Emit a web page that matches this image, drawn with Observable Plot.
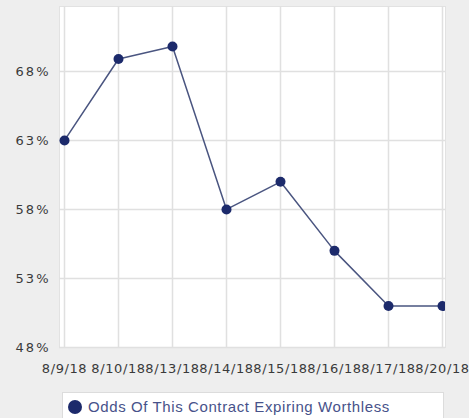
<!DOCTYPE html>
<html>
<head>
<meta charset="utf-8">
<script src="https://cdn.jsdelivr.net/npm/d3@7"></script>
<script src="https://cdn.jsdelivr.net/npm/@observablehq/plot@0.6"></script>
<style>
  html, body { margin: 0; padding: 0; background: #eeeeee; overflow: hidden; }
  #chart svg { display: block; }
  #chart g[aria-label="x-axis tick label"] { letter-spacing: 0.6px; }
  #chart g[aria-label="y-axis tick label"] { letter-spacing: 2px; }
  .legend {
    position: absolute; left: 62px; top: 392px; width: 382px; height: 40px;
    background: #ffffff; border: 1px solid #dcdcdc; box-sizing: border-box;
    font: 15px Arial, "Liberation Sans", sans-serif; letter-spacing: 0.6px; color: #47528a;
    display: flex; align-items: flex-start; padding: 5px 0 0 5px;
  }
  .legend .sw { width: 14px; height: 14px; border-radius: 50%; background: #1c2a6b; margin-right: 6px; margin-top: 2px; flex: none; }
</style>
</head>
<body>
<div id="chart"></div>
<div class="legend"><span class="sw"></span><span>Odds Of This Contract Expiring Worthless</span></div>
<script>
const dates = ["8/9/18", "8/10/18", "8/13/18", "8/14/18", "8/15/18", "8/16/18", "8/17/18", "8/20/18"];
const odds = [63, 68.9, 69.8, 58, 60, 55, 51, 51];
const yTicks = [48, 53, 58, 63, 68];

const data = dates.map((d, i) => ({date: d, value: odds[i]}));

const chart = Plot.plot({
  width: 469,
  height: 385,
  marginLeft: 59,
  marginRight: 24,
  marginTop: 6,
  marginBottom: 38,
  style: {background: "transparent", fontFamily: "'DejaVu Sans', sans-serif", fontSize: "13px", color: "#3a3a3a"},
  x: {type: "point", domain: dates, range: [62, 444], padding: 0, label: null, tickSize: 0, tickPadding: 16},
  y: {domain: [48, 72.7], ticks: yTicks, tickFormat: d => d + "%", label: null, tickSize: 0, tickPadding: 9},
  marks: [
    Plot.frame({fill: "#ffffff", stroke: "#e2e2e2"}),
    Plot.gridX(dates, {stroke: "#e0e0e0", strokeOpacity: 1, strokeWidth: 1.5}),
    Plot.gridY(yTicks, {stroke: "#e0e0e0", strokeOpacity: 1, strokeWidth: 1.5}),
    Plot.line(data, {x: "date", y: "value", stroke: "#4a5580", strokeWidth: 1.5, clip: "frame"}),
    Plot.dot(data, {x: "date", y: "value", r: 5, fill: "#1c2a6b", stroke: "none", clip: "frame"})
  ]
});
document.getElementById("chart").append(chart);
</script>
</body>
</html>
